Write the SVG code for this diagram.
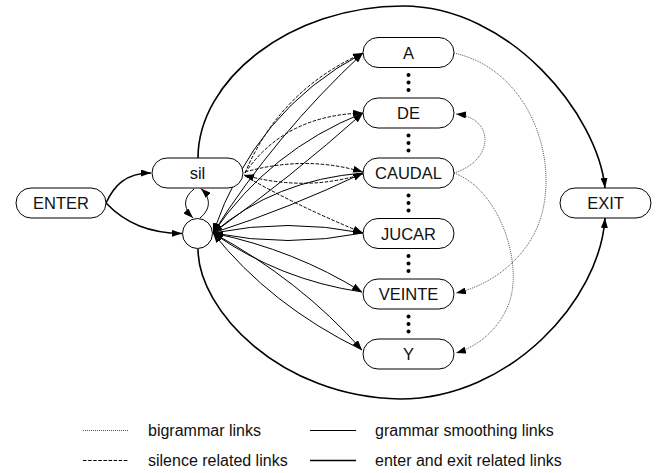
<svg xmlns="http://www.w3.org/2000/svg" width="657" height="473" viewBox="0 0 657 473">
<style>
.node{fill:#fff;stroke:#000;stroke-width:1}
.lbl{font-family:"Liberation Sans",Arial,sans-serif;font-size:16.5px;fill:#111;text-anchor:middle}
.leg{font-family:"Liberation Sans",Arial,sans-serif;font-size:16px;fill:#111}
.e{fill:none;stroke:#000;stroke-width:1}
.thick{fill:none;stroke:#000;stroke-width:1.6}
.dash{fill:none;stroke:#000;stroke-width:1;stroke-dasharray:3.5,1.6}
.dot{fill:none;stroke:#555;stroke-width:1;stroke-dasharray:1,1}
.dots circle{fill:#000}
</style>
<defs>
<marker id="ah" viewBox="0 0 10 7" refX="10" refY="3.5" markerWidth="10" markerHeight="7" markerUnits="userSpaceOnUse" orient="auto">
<path d="M0,0 L10,3.5 L0,7 z" fill="#000"/>
</marker>
</defs>
<g id="connectors">
<!-- enter / exit -->
<path class="thick" d="M106,203 C114,186 125,173 151,173" marker-end="url(#ah)"/>
<path class="thick" d="M106,203 C126,224 150,233 182,233.5" marker-end="url(#ah)"/>
<path class="thick" d="M198,158 C198,80 290,6 403,6 C510,6 598,115 605,188" marker-end="url(#ah)"/>
<path class="thick" d="M198,249 C198,310 280,397 400,399 C510,399 600,300 605,218" marker-end="url(#ah)"/>
<!-- sil <-> circle -->
<path class="e" d="M194,189 C183,198 183,208 193,218" marker-end="url(#ah)"/>
<path class="e" d="M200,218 C211,209 211,198 201,188.5" marker-end="url(#ah)"/>
<!-- silence related -->
<path class="dash" d="M245,173 Q280,90 363,53" marker-end="url(#ah)"/>
<path class="dash" d="M245,173 Q285,115 363,113" marker-end="url(#ah)"/>
<path class="dash" d="M245,172 Q305,155 363,172" marker-end="url(#ah)"/>
<path class="dash" d="M363,174 Q305,192 244,175" marker-end="url(#ah)"/>
<path class="dash" d="M245,176 Q295,205 363,233" marker-end="url(#ah)"/>
<!-- grammar smoothing -->
<path class="e" d="M213,233 Q275,135 363,53" marker-end="url(#ah)"/>
<path class="e" d="M363,53 Q255,110 213,233" marker-end="url(#ah)"/>
<path class="e" d="M213,233 Q290,178 363,113" marker-end="url(#ah)"/>
<path class="e" d="M363,113 Q270,150 213,233" marker-end="url(#ah)"/>
<path class="e" d="M213,233 Q290,208 363,173" marker-end="url(#ah)"/>
<path class="e" d="M363,173 Q275,180 213,233" marker-end="url(#ah)"/>
<path class="e" d="M213,233 Q288,218 363,233" marker-end="url(#ah)"/>
<path class="e" d="M363,233 Q288,248 213,233" marker-end="url(#ah)"/>
<path class="e" d="M213,233 Q295,250 362,292" marker-end="url(#ah)"/>
<path class="e" d="M362,292 Q280,280 213,233" marker-end="url(#ah)"/>
<path class="e" d="M213,233 Q300,280 362,350" marker-end="url(#ah)"/>
<path class="e" d="M362,350 Q270,305 213,233" marker-end="url(#ah)"/>
<!-- bigram -->
<path class="dot" d="M454,53 C530,70 560,160 540,220 C527,258 492,285 456,293" marker-end="url(#ah)"/>
<path class="dot" d="M454,173 C500,190 522,262 510,300 C502,325 482,345 456,353" marker-end="url(#ah)"/>
<path class="dot" d="M454,173 C495,160 495,118 456,114" marker-end="url(#ah)"/>
</g>
<g id="ENTER"><rect class="node" x="16" y="188" width="90" height="30" rx="15"/><text class="lbl" x="61" y="209">ENTER</text></g>
<g id="sil"><rect class="node" x="152" y="158" width="91" height="30" rx="15"/><text class="lbl" x="197.5" y="179">sil</text></g>
<g id="backoff"><circle class="node" cx="197.5" cy="233.5" r="15"/></g>
<g id="A"><rect class="node" x="363" y="37.5" width="91" height="30" rx="15"/><text class="lbl" x="408.5" y="58.5">A</text></g>
<g id="DE"><rect class="node" x="363" y="98" width="91" height="30" rx="15"/><text class="lbl" x="408.5" y="119">DE</text></g>
<g id="CAUDAL"><rect class="node" x="363" y="158" width="91" height="30" rx="15"/><text class="lbl" x="408.5" y="179">CAUDAL</text></g>
<g id="JUCAR"><rect class="node" x="363" y="218.5" width="91" height="30" rx="15"/><text class="lbl" x="408.5" y="239.5">JUCAR</text></g>
<g id="VEINTE"><rect class="node" x="363" y="279" width="91" height="30" rx="15"/><text class="lbl" x="408.5" y="300">VEINTE</text></g>
<g id="Y"><rect class="node" x="363" y="339" width="91" height="30" rx="15"/><text class="lbl" x="408.5" y="360">Y</text></g>
<g id="EXIT"><rect class="node" x="560" y="188" width="91" height="30" rx="15"/><text class="lbl" x="605.5" y="209">EXIT</text></g>
<g id="ellipses" class="dots">
<circle cx="408.5" cy="75" r="2"/><circle cx="408.5" cy="82.5" r="2"/><circle cx="408.5" cy="90" r="2"/>
<circle cx="408.5" cy="135.5" r="2"/><circle cx="408.5" cy="143" r="2"/><circle cx="408.5" cy="150.5" r="2"/>
<circle cx="408.5" cy="195.5" r="2"/><circle cx="408.5" cy="203" r="2"/><circle cx="408.5" cy="210.5" r="2"/>
<circle cx="408.5" cy="256" r="2"/><circle cx="408.5" cy="263.5" r="2"/><circle cx="408.5" cy="271" r="2"/>
<circle cx="408.5" cy="316.5" r="2"/><circle cx="408.5" cy="324" r="2"/><circle cx="408.5" cy="331.5" r="2"/>
</g>
<g id="legend">
<line class="dot" x1="83" y1="430.5" x2="128" y2="430.5"/>
<text class="leg" x="148" y="436">bigrammar links</text>
<line class="e" x1="310" y1="430.5" x2="356" y2="430.5"/>
<text class="leg" x="375" y="436">grammar smoothing links</text>
<line class="dash" x1="83" y1="460.5" x2="128" y2="460.5"/>
<text class="leg" x="148" y="466">silence related links</text>
<line class="thick" x1="310" y1="460.5" x2="356" y2="460.5"/>
<text class="leg" x="375" y="466">enter and exit related links</text>
</g>
</svg>
